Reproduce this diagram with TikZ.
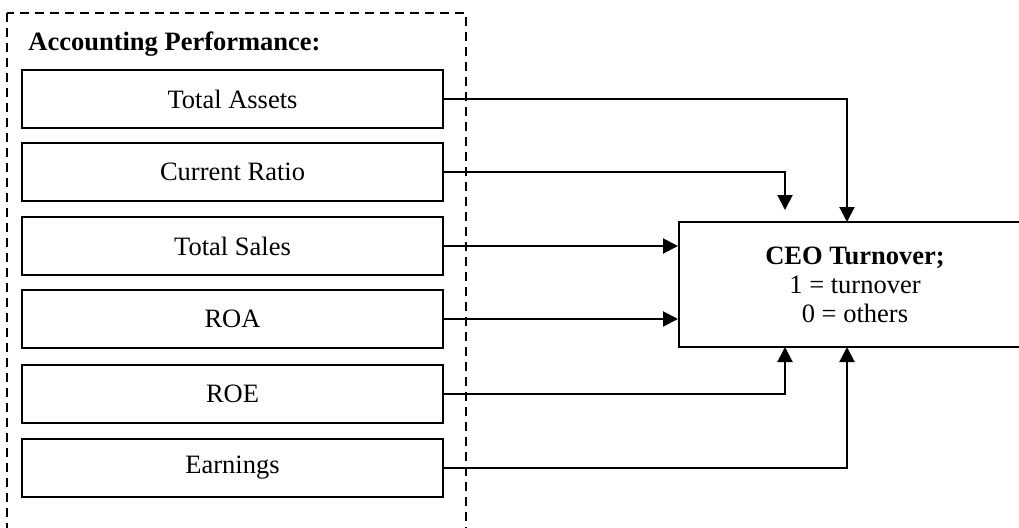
\documentclass[tikz,border=0pt]{standalone}
\usepackage{fontspec}
\setmainfont{Liberation Serif}
\usepackage{tikz}
\usetikzlibrary{arrows.meta,positioning}
\tikzset{varnode/.style={draw,line width=1pt,minimum width=210.5pt,minimum height=29pt,inner sep=0pt,font=\fontsize{13.25}{14}\selectfont}}
\tikzset{outnode/.style={draw,line width=1pt,minimum width=176pt,minimum height=62.5pt,inner sep=0pt,align=center,font=\fontsize{13.25}{14.5}\selectfont}}
\tikzset{elbow/.style={to path={-| (\tikztotarget)}}}

\begin{document}
\begin{tikzpicture}[x=0.5pt,y=-0.5pt]
	\useasboundingbox (0,0) rectangle (1019,527);
	\draw[dashed,dash pattern=on 4.5pt off 3pt,line width=0.75pt] (7,13) rectangle (466,570);
	\node[anchor=base west,inner sep=0pt,font=\fontsize{13.25}{14}\selectfont\bfseries] (title) at (28,50) {Accounting Performance:};
	\node[varnode] (TA) at (232.5,99) {Total Assets};
	\node[varnode] (CR) at (232.5,172) {Current Ratio};
	\node[varnode] (TS) at (232.5,246) {Total Sales};
	\node[varnode] (ROA) at (232.5,319) {ROA};
	\node[varnode] (ROE) at (232.5,394) {ROE};
	\node[varnode] (EA) at (232.5,468) {Earnings};
	\node[outnode] (CEO) at (855,284.5) {\textbf{CEO Turnover;}\\1 = turnover\\0 = others};
	%
	\coordinate (inTA) at (847,222);
	\coordinate (inCR) at (785,210);
	\coordinate (inROE) at (785,347);
	\coordinate (inEA) at (847,347);
	%
	\path[-{Triangle[length=7.5pt,width=7.5pt]},line width=1pt]
	(TA.east) edge[elbow] (inTA)
	(CR.east) edge[elbow] (inCR)
	(TS.east) edge (CEO.west |- TS.east)
	(ROA.east) edge (CEO.west |- ROA.east)
	(ROE.east) edge[elbow] (inROE)
	(EA.east) edge[elbow] (inEA);
\end{tikzpicture}
\end{document}
